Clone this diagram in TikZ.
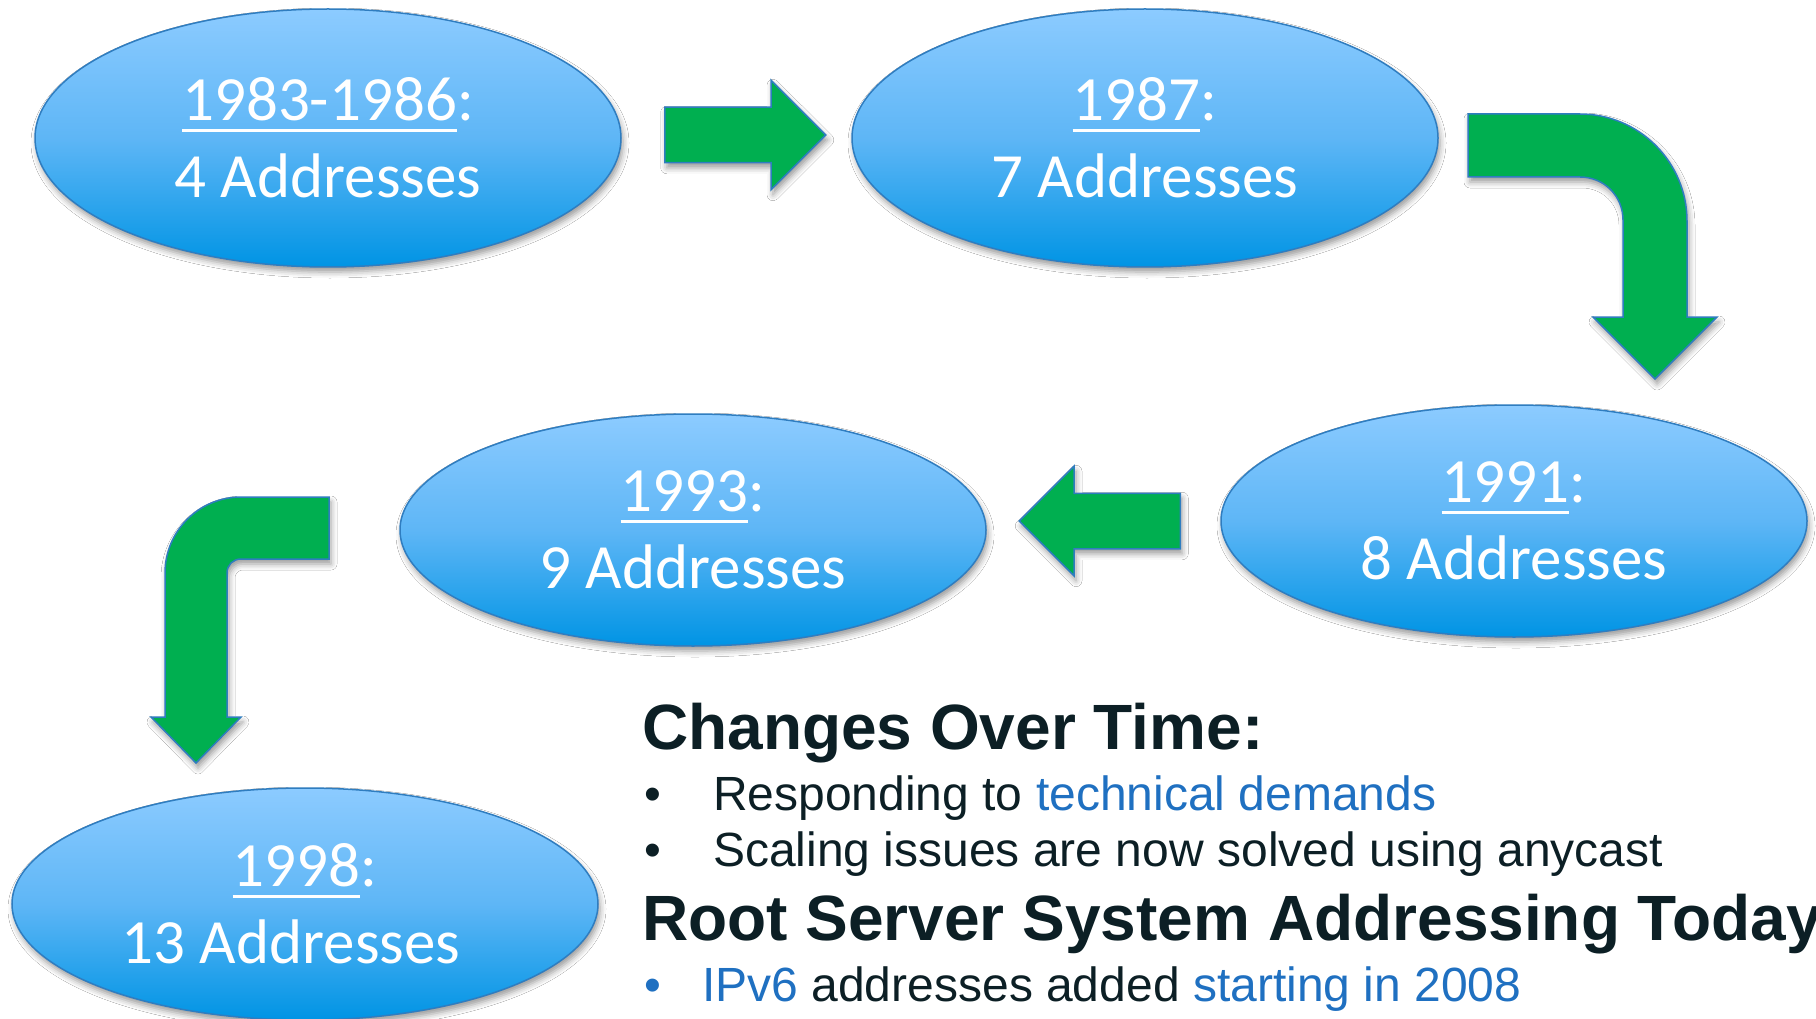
\documentclass[tikz,border=0pt]{standalone}
\usepackage{fontspec}
\setmainfont{Liberation Sans}
\newfontfamily\carlito{Carlito}
\usetikzlibrary{shapes.geometric, shapes.arrows, shadows.blur}

\definecolor{ovaltop}{HTML}{8CCBFF}
\definecolor{ovalmid}{HTML}{5EB6F6}
\definecolor{ovalbottom}{HTML}{0094E4}
\definecolor{ovalborder}{HTML}{2F7DC0}
\definecolor{arrowgreen}{HTML}{00AF50}
\definecolor{inkdark}{HTML}{0C1F25}
\definecolor{linkblue}{HTML}{1F70C1}

\newcommand{\yearul}[1]{\setbox0\hbox{#1}\rlap{\rule[-11pt]{\wd0}{3pt}}\box0}

\tikzset{
    softshadow/.style={blur shadow={shadow xshift=2pt, shadow yshift=-5pt, shadow blur radius=6pt, shadow opacity=40}},
    yearoval/.style={ellipse, draw=ovalborder, line width=1.5pt, top color=ovaltop, bottom color=ovalbottom, middle color=ovalmid,
        minimum width=586pt, minimum height=232pt, text=white, align=center, font=\carlito\fontsize{63}{77}\selectfont, softshadow},
    blockarrow/.style={single arrow, draw=ovalborder, fill=arrowgreen, line width=1.5pt, inner xsep=0pt, inner ysep=27pt,
        minimum height=161pt, single arrow head extend=27pt, anchor=tail, softshadow},
    bentarrow/.style={draw=ovalborder, fill=arrowgreen, line width=1.5pt, softshadow},
    heading/.style={anchor=base west, inner sep=0pt, text=inkdark, font=\bfseries\fontsize{64}{77}\selectfont},
    bulletline/.style={anchor=base west, inner sep=0pt, text=inkdark, font=\fontsize{48}{58}\selectfont}
}

\begin{document}
\begin{tikzpicture}[x=1pt, y=-1pt]
    \path[use as bounding box, fill=white] (0,0) rectangle (1816,1019);

    \node[yearoval, minimum height=258pt] (e1983) at (328,138) {\yearul{1983-1986}:\\4 Addresses};
    \node[yearoval, minimum height=258pt] (e1987) at (1145,138) {\yearul{1987}:\\7 Addresses};
    \node[yearoval] (e1991) at (1514,521) {\yearul{1991}:\\8 Addresses};
    \node[yearoval] (e1993) at (693,530) {\yearul{1993}:\\9 Addresses};
    \node[yearoval] (e1998) at (305,904) {\yearul{1998}:\\13 Addresses\hspace*{28pt}};

    \node[blockarrow] (a1) at (664,135) {};
    \node[blockarrow, shape border rotate=180] (a2) at (1181,521) {};

    \draw[bentarrow] (1468,114) -- (1580,114) .. controls (1639,114) and (1687,162) .. (1687,221) -- (1687,317) -- (1717,317)
        -- (1655,379) -- (1593,317) -- (1623,317) -- (1623,220) .. controls (1623,196) and (1604,177) .. (1580,177) -- (1468,177) -- cycle;
    \draw[bentarrow] (329,497) -- (241,497) .. controls (199,497) and (165,531) .. (165,573) -- (165,717) -- (151,717)
        -- (196,763) -- (241,717) -- (227,717) -- (227,573) .. controls (227,565) and (233,559) .. (241,559) -- (329,559) -- cycle;

    \node[heading] (changes) at (642,749) {Changes Over Time:};
    \node[bulletline] (respond) at (644,810) {\makebox[69pt][l]{•}Responding to \textcolor{linkblue}{technical demands}};
    \node[bulletline] (scaling) at (644,866) {\makebox[69pt][l]{•}Scaling issues are now solved using anycast};
    \node[heading] (today) at (642,940) {Root Server System Addressing Today};
    \node[bulletline] (ipv6) at (644,1001) {\makebox[58pt][l]{\textcolor{linkblue}{•}}\textcolor{linkblue}{IPv6} addresses added \textcolor{linkblue}{starting in 2008}};
\end{tikzpicture}
\end{document}
